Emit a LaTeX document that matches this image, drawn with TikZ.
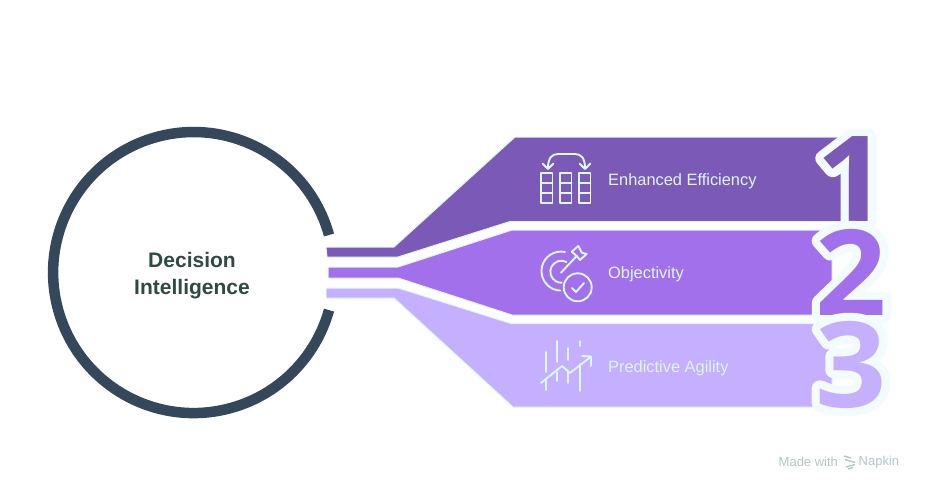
\documentclass[tikz,border=0pt]{standalone}
\usepackage{fontspec}
\setmainfont{Liberation Sans}
\newfontfamily\digitfont{Open Sans}[BoldFont=* Bold]
\definecolor{ringc}{HTML}{35475A}
\definecolor{headc}{HTML}{2F4A44}
\definecolor{banda}{HTML}{7B59B6}
\definecolor{bandb}{HTML}{A270EA}
\definecolor{bandc}{HTML}{C5AFFF}
\definecolor{edgec}{HTML}{DDF8FF}
\definecolor{footc}{HTML}{B5C6C6}
\tikzset{
  band/.style = {draw=edgec, line width=1pt, line join=round},
  icon/.style = {draw=edgec, line width=1.9pt, line cap=round, line join=round},
  label/.style = {text=edgec, font=\fontsize{16.4}{18}\selectfont, anchor=west, inner sep=0pt},
  numeral/.style = {font=\digitfont\bfseries\fontsize{119}{119}\selectfont, anchor=base, inner sep=0pt, xscale=1.05, transform shape},
  footer/.style = {text=footc, font=\fontsize{13}{14}\selectfont, anchor=west, inner sep=0pt},
}
% outline of a numeral, painted under the numeral itself
\newcommand{\haloglyph}[1]{\special{pdf:code q 1 J 1 j 0.95 0.99 1 RG 16 w 1 Tr}#1\special{pdf:code Q}}
\begin{document}
\begin{tikzpicture}[x=1pt, y=-1pt]
  \useasboundingbox [fill=white] (0,0) rectangle (936,495);
  % Draw ring
  \draw [ringc, line width=10.5pt] (329,235) arc [start angle=-15.5, end angle=-344.5, radius=140.5];
  \fill [white] (300,237.5) rectangle (345,307.5);
  \node [font=\bfseries\fontsize{21}{27}\selectfont, text=headc, align=center, inner sep=0pt] (title) at (192,275.5) {Decision\\Intelligence};
  % Draw three bands
  \draw [band, fill=banda] (326,247) -- (394,247) -- (515,137) -- (871,137) -- (871,221.5) -- (510,221.5) -- (398,257) -- (327,257) -- cycle;
  \draw [band, fill=bandb] (328,267) -- (398,267) -- (512,230) -- (832,230) -- (832,315) -- (512,315) -- (398,278) -- (328,278) -- cycle;
  \draw [band, fill=bandc] (326,288) -- (398,288) -- (511,323.5) -- (832,323.5) -- (832,407) -- (513,407) -- (394,298) -- (326,298) -- cycle;
  % Draw numerals
  \node [numeral] (halo1) at (852,221.5) {\haloglyph{1}};
  \node [numeral, text=banda] (num1) at (852,221.5) {1};
  \node [numeral] (halo2) at (851,315) {\haloglyph{2}};
  \node [numeral, text=bandb] (num2) at (851,315) {2};
  \node [numeral] (halo3) at (851,407) {\haloglyph{3}};
  \node [numeral, text=bandc] (num3) at (851,407) {3};
  % Draw labels
  \node [label] (eff) at (608,181.5) {Enhanced Efficiency};
  \node [label] (obj) at (608,274.5) {Objectivity};
  \node [label] (agi) at (608,368.5) {Predictive Agility};
  % Draw table icon
  \foreach \cx in {541,560,579} {
    \draw [icon] (\cx,173) rectangle (\cx+11.5,203);
    \draw [icon] (\cx,183) -- (\cx+11.5,183);
    \draw [icon] (\cx,193) -- (\cx+11.5,193);
  }
  \draw [icon] (548,168) .. controls (548,158) and (552,154) .. (558,154) -- (575,154) .. controls (581,154) and (585,158) .. (585,168);
  \draw [icon] (542.5,163.5) -- (548,169) -- (553.5,163.5);
  \draw [icon] (579.5,163.5) -- (585,169) -- (590.5,163.5);
  % Draw target icon
  \draw [icon] (565,252) arc [start angle=-78, end angle=-268, radius=19.5];
  \draw [icon] (566.5,262) arc [start angle=-62, end angle=-272, radius=11];
  \draw [icon] (577.7,287.3) circle [radius=14];
  \draw [icon] (572,288) -- (576,292) -- (584,283);
  \draw [icon] (561,272.7) -- (576.7,256);
  \draw [icon] (576.7,256) -- (571.7,251.7) -- (578.3,246) -- (581.7,252.7) -- (586.7,254) -- (580,260) -- cycle;
  % Draw trend icon
  \draw [icon] (546,352) -- (546,372) (546,380) -- (546,390);
  \draw [icon] (557,341) -- (557,362) (557,372) -- (557,381);
  \draw [icon] (568,348) -- (568,360) (568,372) -- (568,383);
  \draw [icon] (580,341) -- (580,346) (580,364) -- (580,391);
  \draw [icon] (541,383) -- (562,366) -- (570,373) -- (590.5,357);
  \draw [icon] (582,356) -- (591,356.5) -- (591,366);
  % Draw footer
  \node [footer] (made) at (778.5,462) {Made with};
  \node [footer] (napkin) at (858.5,462) {Napkin};
  \draw [footc, line width=1.4pt] (844,456) -- (851,458) (845,459.5) -- (855,462.5) (855,464.5) -- (846,467) (853,467.5) -- (848,469);
\end{tikzpicture}
\end{document}
